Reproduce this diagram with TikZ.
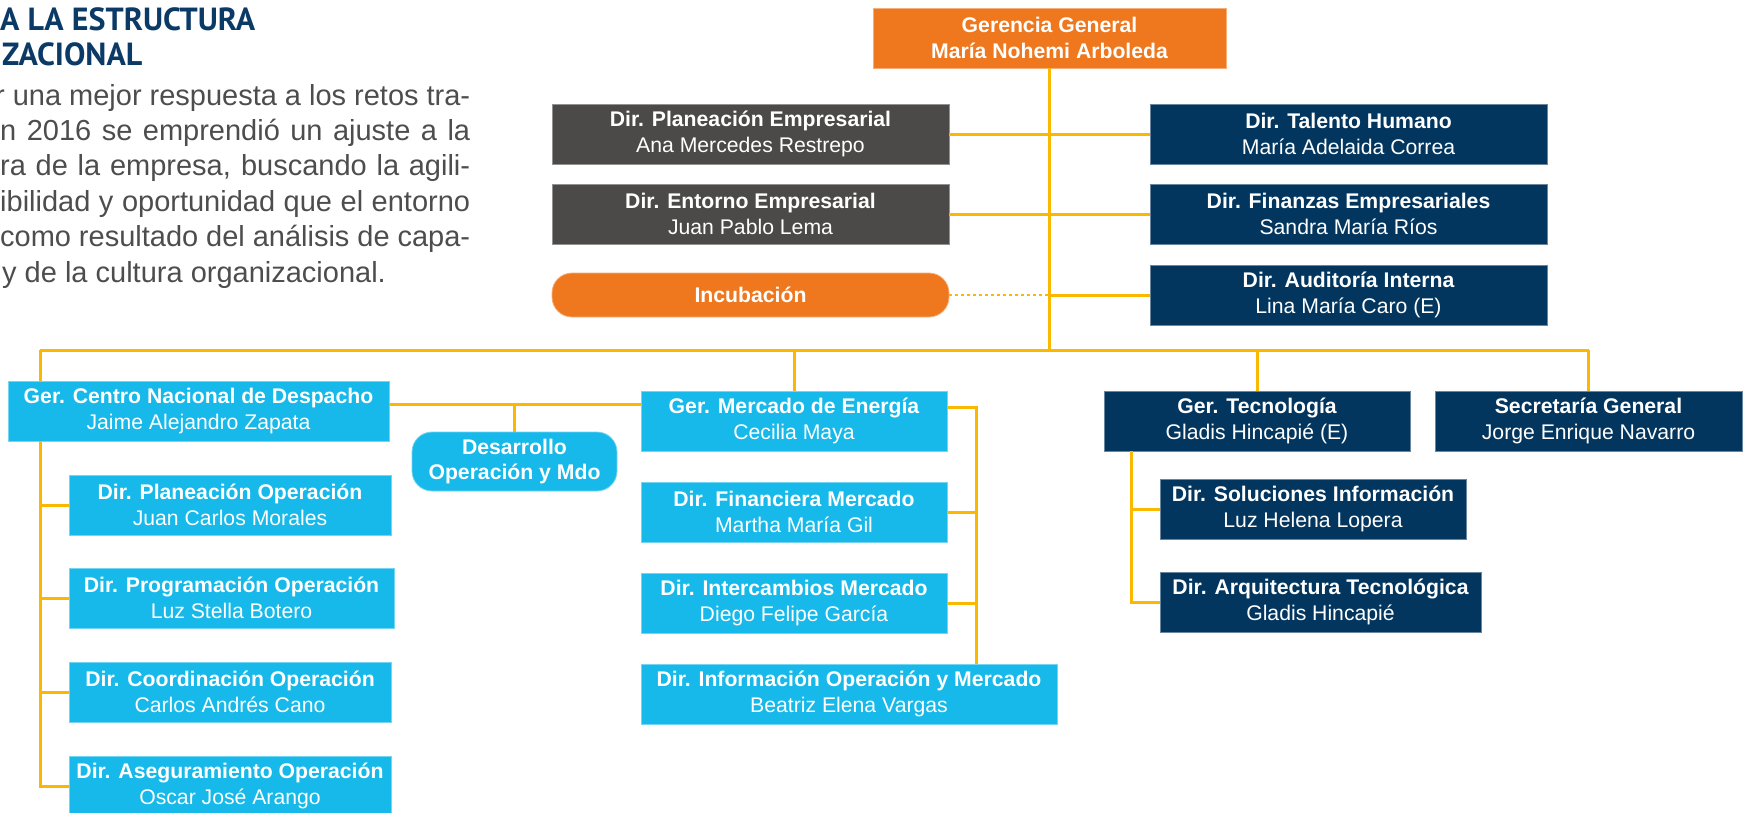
\documentclass[tikz,border=0pt]{standalone}
\usepackage{fontspec}
\setmainfont{Liberation Sans}
\newfontfamily\headfont{PT Sans}
\definecolor{corange}{HTML}{EF781E}
\definecolor{cgray}{HTML}{4B4A48}
\definecolor{cnavy}{HTML}{03365F}
\definecolor{clblue}{HTML}{16B9E9}
\definecolor{cline}{HTML}{FBB800}
\definecolor{chead}{HTML}{0B3A66}
\definecolor{cbody}{HTML}{4D4D4D}
\newcommand\boxfont{\fontsize{21.2pt}{25.5pt}\selectfont}
\newcommand\bodyfont{\fontsize{29pt}{35.4pt}\selectfont}
\begin{document}
\begin{tikzpicture}[x=1pt,y=-1pt,
  box/.style={inner sep=0pt, align=center, text=white, font=\boxfont},
  orangebox/.style={box, fill=corange, draw=corange!60!white, line width=0.8pt},
  graybox/.style={box, fill=cgray, draw=cgray!60!white, line width=0.8pt},
  navybox/.style={box, fill=cnavy, draw=cnavy!60!white, line width=0.8pt},
  bluebox/.style={box, fill=clblue, draw=clblue!60!white, line width=0.8pt},
  pill/.style={rounded corners=20pt},
  conn/.style={draw=cline, line width=3pt},
  dotconn/.style={draw=cline, line width=2.5pt, dash pattern=on 3pt off 3pt},
  headtxt/.style={anchor=base west, inner sep=0pt, text=chead, font={\headfont\bfseries\fontsize{32pt}{36pt}\selectfont}},
  bodytxt/.style={anchor=base west, inner sep=0pt, text=cbody, font=\bodyfont}
]
\useasboundingbox (0,0) rectangle (1744,812);

% left text
\node[headtxt] (h1) at (0,30) {A LA ESTRUCTURA};
\node[headtxt] (h2) at (2,65) {ZACIONAL};
\node[bodytxt] (b1) at (-5,105) {\makebox[475pt][s]{r una mejor respuesta a los retos tra-}};
\node[bodytxt] (b2) at (0,140.4) {\makebox[470pt][s]{n 2016 se emprendió un ajuste a la}};
\node[bodytxt] (b3) at (0,175.8) {\makebox[470pt][s]{ra de la empresa, buscando la agili-}};
\node[bodytxt] (b4) at (0,211.2) {\makebox[470pt][s]{ibilidad y oportunidad que el entorno}};
\node[bodytxt] (b5) at (0,246.6) {\makebox[470pt][s]{como resultado del análisis de capa-}};
\node[bodytxt] (b6) at (2,282) {y de la cultura organizacional.};

% top level
\node[orangebox, minimum width=353pt, minimum height=60pt] (gg) at (1049.5,38) {\bfseries Gerencia General\\\bfseries María Nohemi Arboleda};
\node[graybox, minimum width=397pt, minimum height=60pt] (pe) at (750.5,134) {\bfseries Dir. Planeación Empresarial\\Ana Mercedes Restrepo};
\node[graybox, minimum width=397pt, minimum height=60pt] (ee) at (750.5,214) {\bfseries Dir. Entorno Empresarial\\Juan Pablo Lema};
\node[orangebox, pill, minimum width=397pt, minimum height=44pt] (inc) at (750.5,295) {\bfseries Incubación};
\node[navybox, minimum width=397pt, minimum height=60pt] (th) at (1348.5,134) {\bfseries Dir. Talento Humano\\María Adelaida Correa};
\node[navybox, minimum width=397pt, minimum height=60pt] (fe) at (1348.5,214) {\bfseries Dir. Finanzas Empresariales\\Sandra María Ríos};
\node[navybox, minimum width=397pt, minimum height=60pt] (ai) at (1348.5,295) {\bfseries Dir. Auditoría Interna\\Lina María Caro (E)};

% second level
\node[bluebox, minimum width=381pt, minimum height=60pt] (cnd) at (198.5,411) {\bfseries Ger. Centro Nacional de Despacho\\Jaime Alejandro Zapata};
\node[bluebox, pill, minimum width=205pt, minimum height=59pt] (des) at (514.5,461.5) {\bfseries Desarrollo\\\bfseries Operación y Mdo};
\node[bluebox, minimum width=306pt, minimum height=60pt] (gme) at (794,421) {\bfseries Ger. Mercado de Energía\\Cecilia Maya};
\node[bluebox, minimum width=306pt, minimum height=60pt] (fm) at (794,512) {\bfseries Dir. Financiera Mercado\\Martha María Gil};
\node[bluebox, minimum width=306pt, minimum height=60pt] (im) at (794,603) {\bfseries Dir. Intercambios Mercado\\Diego Felipe García};
\node[bluebox, minimum width=416pt, minimum height=60pt] (io) at (849,694) {\bfseries Dir. Información Operación y Mercado\\Beatriz Elena Vargas};
\node[bluebox, minimum width=322pt, minimum height=60pt] (po) at (230,505) {\bfseries Dir. Planeación Operación\\Juan Carlos Morales};
\node[bluebox, minimum width=325pt, minimum height=60pt] (pr) at (231.5,598) {\bfseries Dir. Programación Operación\\Luz Stella Botero};
\node[bluebox, minimum width=322pt, minimum height=60pt] (co) at (230,692) {\bfseries Dir. Coordinación Operación\\Carlos Andrés Cano};
\node[bluebox, minimum width=322pt, minimum height=60pt] (as) at (230,786) {\bfseries Dir. Aseguramiento Operación\\Oscar José Arango};
\node[navybox, minimum width=306pt, minimum height=60pt] (gt) at (1257,421) {\bfseries Ger. Tecnología\\Gladis Hincapié (E)};
\node[navybox, minimum width=307pt, minimum height=60pt] (sg) at (1588.5,421) {\bfseries Secretaría General\\Jorge Enrique Navarro};
\node[navybox, minimum width=306pt, minimum height=60pt] (si) at (1313,509) {\bfseries Dir. Soluciones Información\\Luz Helena Lopera};
\node[navybox, minimum width=321pt, minimum height=60pt] (at) at (1320.5,602) {\bfseries Dir. Arquitectura Tecnológica\\Gladis Hincapié};

% coordinates
\coordinate (busL) at (40,350);
\coordinate (busT) at (1049.5,350);
\coordinate (busR) at (1588.5,350);
\coordinate (cm) at (514.5,404);
\coordinate (mb) at (976,407);
\coordinate (ts) at (1131,451);

% connectors
\draw[conn] (gg.south) -- (busT);
\draw[conn] (pe.east) -- (th.west);
\draw[conn] (ee.east) -- (fe.west);
\draw[dotconn] (inc.east) -- (inc.east -| gg.south);
\draw[conn] (inc.east -| gg.south) -- (ai.west);
\draw[conn] (busL) -- (busR);
\draw[conn] (busL) -- (busL |- cnd.north);
\draw[conn] (gme.north |- busL) -- (gme.north);
\draw[conn] (gt.north |- busL) -- (gt.north);
\draw[conn] (busR) -- (sg.north);
\draw[conn] (cnd.east |- cm) -- (gme.west |- cm);
\draw[conn] (cm) -- (des.north);
\draw[conn] (busL |- cnd.south) -- (busL |- as.west) -- (as.west);
\draw[conn] (busL |- po.west) -- (po.west);
\draw[conn] (busL |- pr.west) -- (pr.west);
\draw[conn] (busL |- co.west) -- (co.west);
\draw[conn] (gme.east |- mb) -- (mb) -- (mb |- io.north);
\draw[conn] (fm.east) -- (fm.east -| mb);
\draw[conn] (im.east) -- (im.east -| mb);
\draw[conn] (ts) -- (ts |- at.west) -- (at.west);
\draw[conn] (ts |- si.west) -- (si.west);
\end{tikzpicture}
\end{document}
